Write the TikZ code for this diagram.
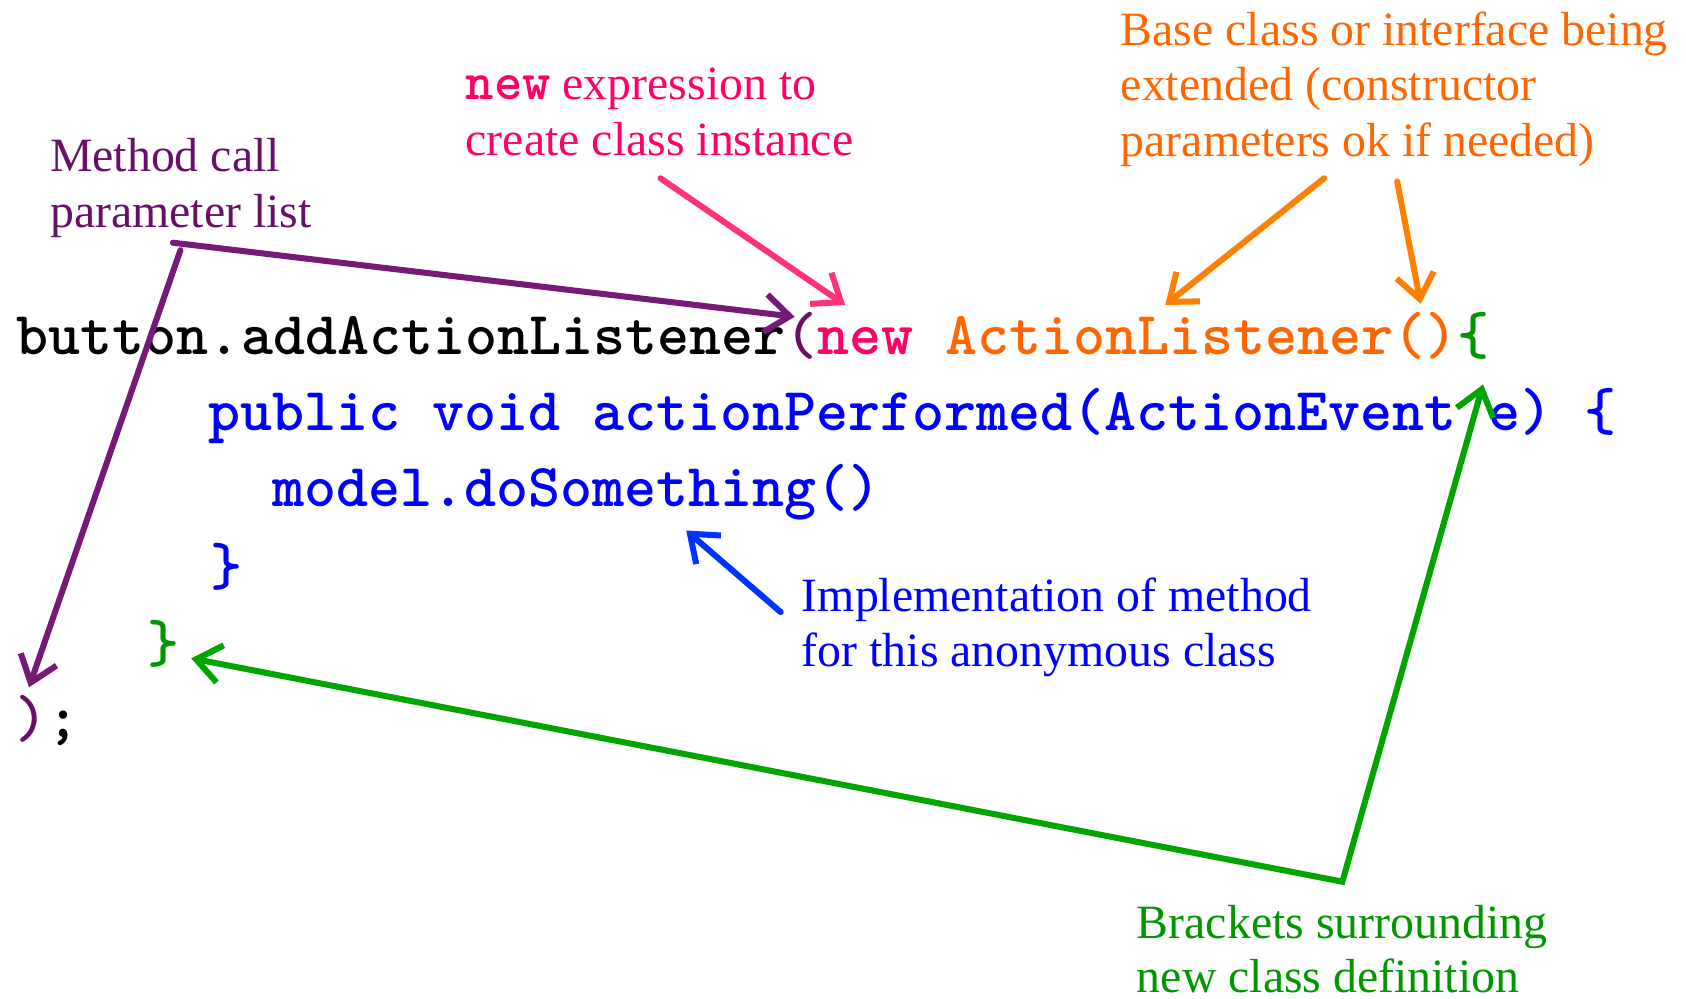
\documentclass[tikz,border=0pt]{standalone}
\usepackage{fontspec}
\setmainfont{Liberation Serif}
\usetikzlibrary{arrows.meta}
\definecolor{cpurple}{RGB}{104,16,104}
\definecolor{apurple}{RGB}{118,26,120}
\definecolor{cpink}{RGB}{255,0,102}
\definecolor{apink}{RGB}{255,51,119}
\definecolor{corange}{RGB}{255,102,0}
\definecolor{aorange}{RGB}{255,128,0}
\definecolor{cgreen}{RGB}{0,150,0}
\definecolor{agreen}{RGB}{0,165,0}
\definecolor{cblue}{RGB}{0,0,255}
\definecolor{ablue}{RGB}{0,51,255}
\newcommand\codefnt{\ttfamily\bfseries\fontsize{16.15}{19}\selectfont}
\newcommand\smallcodefnt{\ttfamily\bfseries\fontsize{14.3}{15}\selectfont}
\newcommand\lblfnt{\fontsize{12.66}{15}\selectfont}
\begin{document}
\begin{tikzpicture}[x=0.01cm,y=-0.01cm,
  code/.style={anchor=base west, inner sep=0pt, font=\codefnt},
  lbl/.style={anchor=base west, inner sep=0pt, font=\lblfnt},
  arr/.style={line width=1.6pt, line cap=round, -{Straight Barb[length=6.5pt,width=10pt,line width=1.6pt]}},
  darr/.style={line width=1.6pt, line cap=round, line join=miter, {Straight Barb[length=6.5pt,width=10pt,line width=1.6pt]}-{Straight Barb[length=6.5pt,width=10pt,line width=1.6pt]}}]
\useasboundingbox (0,0) rectangle (1570,930);
% code
\node[code] (l1) at (15,330) {button.addActionListener\textcolor{cpurple}{(}\textcolor{cpink}{new} \textcolor{corange}{ActionListener()}\textcolor{cgreen}{\{}};
\node[code, text=cblue] (l2) at (193,401) {public void actionPerformed(ActionEvent e) \{};
\node[code, text=cblue] (l3) at (253,472) {model.doSomething()};
\node[code, text=cblue] (l4) at (195,545) {\}};
\node[code, text=cgreen] (l5) at (137,617) {\}};
\node[code] (l6) at (14,687) {\textcolor{cpurple}{)};};
% labels
\node[lbl, text=cpurple] (m1) at (46,160) {Method call};
\node[lbl, text=cpurple] (m2) at (46,212) {parameter list};
\node[lbl, text=cpink] (n1) at (433,93) {{\smallcodefnt new} expression to};
\node[lbl, text=cpink] (n2) at (433,145) {create class instance};
\node[lbl, text=corange] (b1) at (1043,42) {Base class or interface being};
\node[lbl, text=corange] (b2) at (1043,94) {extended (constructor};
\node[lbl, text=corange] (b3) at (1043,146) {parameters ok if needed)};
\node[lbl, text=cblue] (i1) at (746,569) {Implementation of method};
\node[lbl, text=cblue] (i2) at (746,621) {for this anonymous class};
\node[lbl, text=cgreen] (g1) at (1058,874) {Brackets surrounding};
\node[lbl, text=cgreen] (g2) at (1058,924) {new class definition};
% connector ends
\coordinate (pA) at (161,226);
\coordinate (pB) at (168,233);
\coordinate (pParen) at (740,295);
\coordinate (pClose) at (27,640);
\coordinate (kA) at (615,166);
\coordinate (kNew) at (787,284);
\coordinate (oA) at (1233,166);
\coordinate (oName) at (1085,284);
\coordinate (oB) at (1301,169);
\coordinate (oParen) at (1323,283);
\coordinate (bA) at (727,570);
\coordinate (bCall) at (639,494);
\coordinate (gInner) at (178,613);
\coordinate (gCorner) at (1250,821);
\coordinate (gOuter) at (1381,358);
% connectors
\draw[arr, apurple] (pA) -- (pParen);
\draw[arr, apurple] (pB) -- (pClose);
\draw[arr, apink] (kA) -- (kNew);
\draw[arr, aorange] (oA) -- (oName);
\draw[arr, aorange] (oB) -- (oParen);
\draw[arr, ablue] (bA) -- (bCall);
\draw[darr, agreen] (gInner) -- (gCorner) -- (gOuter);
\end{tikzpicture}
\end{document}
